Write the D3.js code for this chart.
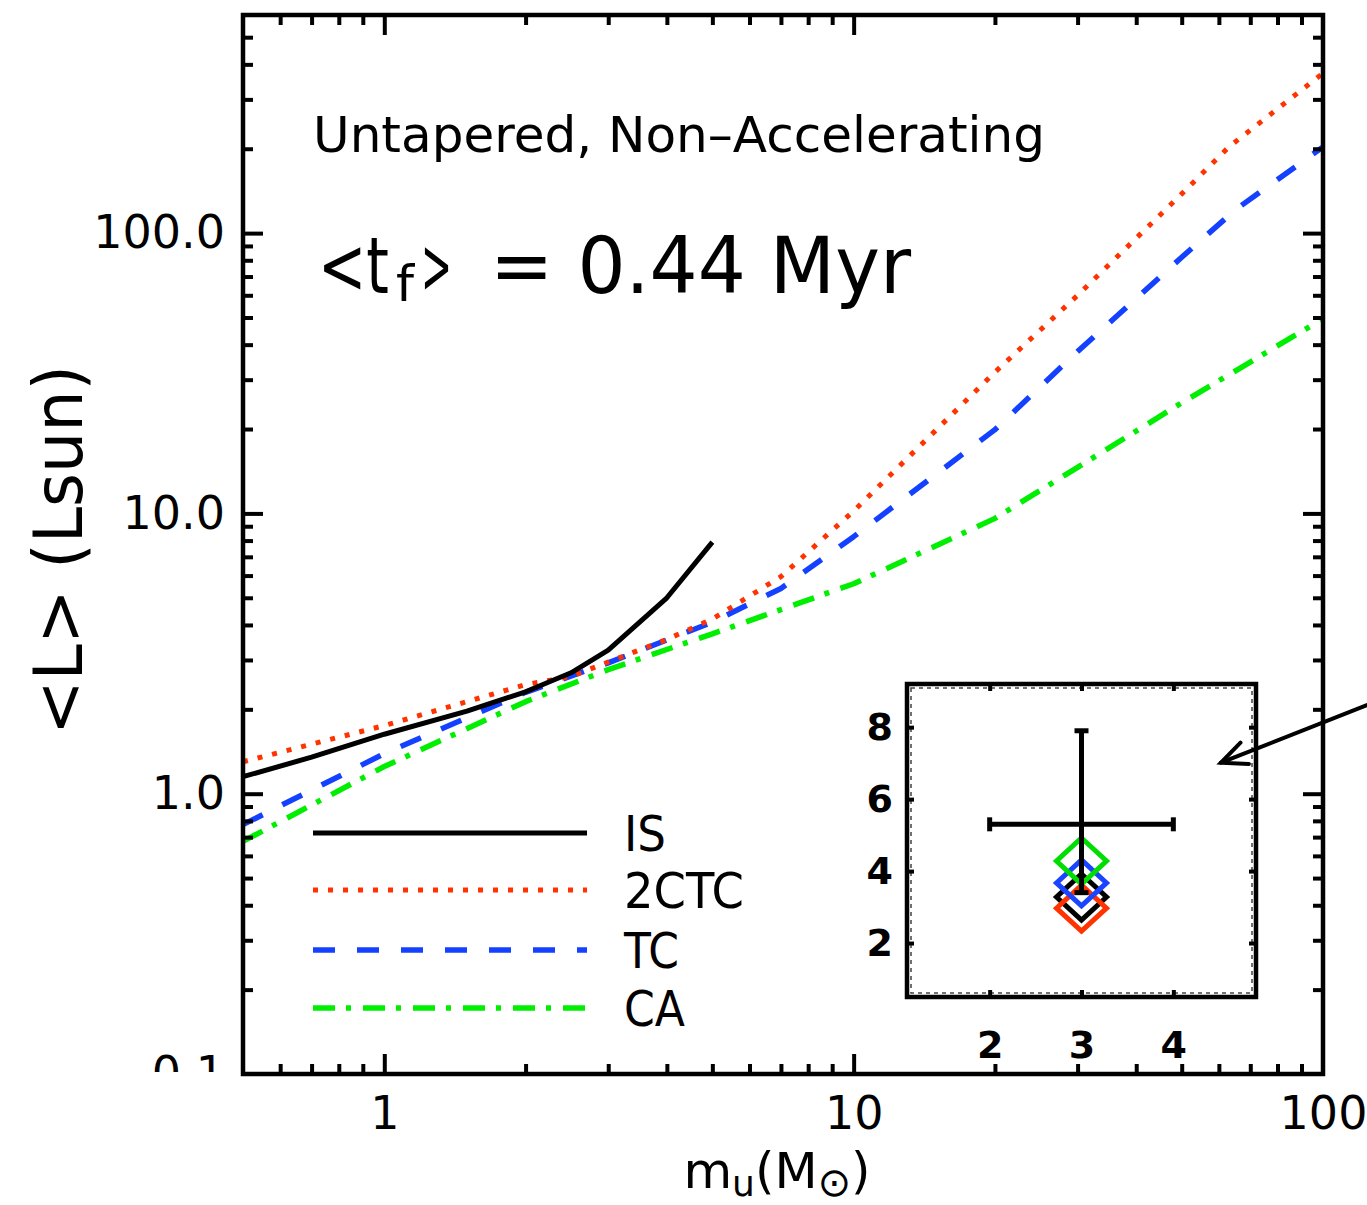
<!DOCTYPE html>
<html>
<head>
<meta charset="utf-8">
<script src="https://cdnjs.cloudflare.com/ajax/libs/d3/7.8.5/d3.min.js"></script>
<style>
  body { margin: 0; background: #fff; }
  svg { display: block; }
  text { font-family: "DejaVu Sans", sans-serif; fill: #000; }
</style>
</head>
<body>
<svg id="chart" width="1367" height="1205"></svg>
<script>
// Mean luminosity <L> (Lsun) versus upper mass m_u (Msun), untapered, non-accelerating case
const massIS   = [0.5, 0.7, 1, 1.5, 2, 2.5, 3, 4, 5];
const lumIS    = [1.15, 1.35, 1.63, 1.97, 2.31, 2.70, 3.25, 5.0, 7.9];

const mass2CTC = [0.5, 1, 2, 2.5, 3, 4, 5, 7, 10, 20, 30, 50, 63, 100];
const lum2CTC  = [1.30, 1.75, 2.45, 2.62, 2.95, 3.55, 4.2, 5.95, 10.2, 31.9, 60, 138, 203, 372];

const massTC   = [0.5, 1, 2, 3, 5, 7, 10, 20, 30, 50, 65, 100];
const lumTC    = [0.776, 1.39, 2.30, 2.93, 4.09, 5.4, 8.26, 19.9, 37.8, 82, 121, 203];

const massCA   = [0.5, 1, 2, 3, 5, 7, 10, 20, 30, 50, 100];
const lumCA    = [0.676, 1.25, 2.13, 2.77, 3.72, 4.54, 5.61, 9.6, 14.6, 24.8, 49.5];

const seriesNames = ["IS", "2CTC", "TC", "CA"];

// Axis ticks
const xMajorTicks = [1, 10, 100];
const xMinorTicks = [0.6, 0.7, 0.8, 0.9, 2, 3, 4, 5, 6, 7, 8, 9, 20, 30, 40, 50, 60, 70, 80, 90];
const yMajorTicks = [0.1, 1, 10, 100];
const yMinorTicks = [0.2, 0.3, 0.4, 0.5, 0.6, 0.7, 0.8, 0.9, 2, 3, 4, 5, 6, 7, 8, 9,
                     20, 30, 40, 50, 60, 70, 80, 90, 200, 300, 400, 500];

// Inset: model values at the peak vs. observed value with error bars
const insetModels   = ["IS", "2CTC", "TC", "CA"];
const insetX        = [3, 3, 3, 3];
const insetY        = [3.28, 2.97, 3.67, 4.28];
const observedX     = 3;
const observedY     = 5.3;
const observedXErr  = [2.0, 4.0];
const observedYErr  = [3.4, 7.9];
const insetXTicks   = [2, 3, 4];
const insetYTicks   = [2, 4, 6, 8];

const styles = {
  "IS":   { color: "#000000", width: 5,   dash: null },
  "2CTC": { color: "#ff3300", width: 5,   dash: "5 10" },
  "TC":   { color: "#1440ff", width: 5.5, dash: "22 22" },
  "CA":   { color: "#00ee00", width: 5.5, dash: "22 11 5 12" }
};
const insetColors = { "IS": "#000000", "2CTC": "#ff3300", "TC": "#1a44ff", "CA": "#00dd00" };

const plot = { left: 243, right: 1323, top: 15, bottom: 1074 };
const svg = d3.select("#chart");

const x = d3.scaleLog().domain([0.5, 100]).range([plot.left, plot.right]);
const y = d3.scaleLog().domain([0.1, 600]).range([plot.bottom, plot.top]);

svg.append("defs").append("clipPath").attr("id", "plotClip")
  .append("rect").attr("x", plot.left).attr("y", plot.top)
  .attr("width", plot.right - plot.left).attr("height", plot.bottom - plot.top);
svg.select("defs").append("clipPath").attr("id", "ylabClip")
  .append("rect").attr("x", 0).attr("y", 0).attr("width", plot.left).attr("height", plot.bottom - 2);

// Curves
const seriesData = {
  "IS":   d3.zip(massIS, lumIS),
  "2CTC": d3.zip(mass2CTC, lum2CTC),
  "TC":   d3.zip(massTC, lumTC),
  "CA":   d3.zip(massCA, lumCA)
};
const line = d3.line().x(d => x(d[0])).y(d => y(d[1]));
const curves = svg.append("g").attr("clip-path", "url(#plotClip)");
["CA", "TC", "2CTC", "IS"].forEach(name => {
  const s = styles[name];
  curves.append("path")
    .datum(seriesData[name])
    .attr("d", line)
    .attr("fill", "none")
    .attr("stroke", s.color)
    .attr("stroke-width", s.width)
    .attr("stroke-dasharray", s.dash)
    .attr("stroke-linejoin", "round");
});

// Inward ticks on all four sides
function tickGroup(axis, transform, len, values) {
  const g = svg.append("g").attr("transform", transform)
    .call(axis.tickValues(values).tickSize(-len).tickFormat(""));
  g.select(".domain").remove();
  g.selectAll(".tick line").attr("stroke", "#000").attr("stroke-width", 4);
  return g;
}
tickGroup(d3.axisBottom(x), `translate(0,${plot.bottom})`, 20, xMajorTicks.filter(v => v < 100));
tickGroup(d3.axisBottom(x), `translate(0,${plot.bottom})`, 10, xMinorTicks);
tickGroup(d3.axisTop(x), `translate(0,${plot.top})`, 20, xMajorTicks.filter(v => v < 100));
tickGroup(d3.axisTop(x), `translate(0,${plot.top})`, 10, xMinorTicks);
tickGroup(d3.axisLeft(y), `translate(${plot.left},0)`, 20, yMajorTicks.filter(v => v > 0.1));
tickGroup(d3.axisLeft(y), `translate(${plot.left},0)`, 10, yMinorTicks);
tickGroup(d3.axisRight(y), `translate(${plot.right},0)`, 20, yMajorTicks.filter(v => v > 0.1));
tickGroup(d3.axisRight(y), `translate(${plot.right},0)`, 10, yMinorTicks);

// Frame
svg.append("rect")
  .attr("x", plot.left).attr("y", plot.top)
  .attr("width", plot.right - plot.left).attr("height", plot.bottom - plot.top)
  .attr("fill", "none").attr("stroke", "#000").attr("stroke-width", 4.5);

// Tick labels
const xLab = svg.append("g").attr("transform", `translate(0,${plot.bottom})`)
  .call(d3.axisBottom(x).tickValues(xMajorTicks).tickSize(0).tickPadding(22).tickFormat(d3.format("d")));
xLab.select(".domain").remove();
xLab.attr("font-family", null).attr("font-size", null);
xLab.selectAll("text").attr("font-size", 46);

const yLab = svg.append("g").attr("transform", `translate(${plot.left},0)`)
  .call(d3.axisLeft(y).tickValues(yMajorTicks).tickSize(0).tickPadding(18).tickFormat(d3.format(".1f")));
yLab.select(".domain").remove();
yLab.attr("font-family", null).attr("font-size", null);
yLab.selectAll("text").attr("font-size", 46);
// the lowest label is cut at the bottom axis line
const yLabWrap = svg.append("g").attr("clip-path", "url(#ylabClip)");
yLabWrap.node().appendChild(yLab.node());

// Axis titles
const xTitle = svg.append("text").attr("x", 777).attr("y", 1188)
  .attr("text-anchor", "middle").attr("font-size", 50);
xTitle.append("tspan").text("m");
xTitle.append("tspan").attr("font-size", 36).attr("dy", 8).text("u");
xTitle.append("tspan").attr("dy", -8).text("(M");
xTitle.append("tspan").attr("font-size", 40).attr("dy", 8).text("\u2299");
xTitle.append("tspan").attr("dy", -8).text(")");

svg.append("text")
  .attr("transform", "translate(82,550) rotate(-90)")
  .attr("text-anchor", "middle").attr("font-size", 68)
  .attr("textLength", 370).attr("lengthAdjust", "spacingAndGlyphs")
  .text("<L> (Lsun)");

// Annotations
svg.append("text").attr("x", 313).attr("y", 152).attr("font-size", 50)
  .attr("textLength", 732).attr("lengthAdjust", "spacingAndGlyphs")
  .text("Untapered, Non\u2013Accelerating");

// <t_f> = 0.44 Myr as one text with placed pieces
const tf = svg.append("text").attr("font-size", 78);
tf.append("tspan").attr("x", 318).attr("y", 293)
  .attr("textLength", 71).attr("lengthAdjust", "spacingAndGlyphs").text("<t");
tf.append("tspan").attr("x", 396).attr("y", 301).attr("font-size", 50)
  .attr("textLength", 18).attr("lengthAdjust", "spacingAndGlyphs").text("f");
tf.append("tspan").attr("x", 421).attr("y", 293)
  .attr("textLength", 31).attr("lengthAdjust", "spacingAndGlyphs").text(">");
tf.append("tspan").attr("x", 490).attr("y", 293)
  .attr("textLength", 421).attr("lengthAdjust", "spacingAndGlyphs").text("= 0.44 Myr");

// Legend
const legend = svg.append("g");
const legendY = [833, 890, 950, 1008];
const legendW = [42, 120, 55, 61];
seriesNames.forEach((name, i) => {
  const s = styles[name];
  legend.append("line")
    .attr("x1", 313).attr("x2", 587).attr("y1", legendY[i]).attr("y2", legendY[i])
    .attr("stroke", s.color).attr("stroke-width", s.width)
    .attr("stroke-dasharray", s.dash);
  legend.append("text").attr("x", 624).attr("y", legendY[i] + 18)
    .attr("font-size", 50)
    .attr("textLength", legendW[i]).attr("lengthAdjust", "spacingAndGlyphs")
    .text(name);
});

// Inset panel
const inset = { left: 907, right: 1256, top: 684, bottom: 997 };
const ix = d3.scaleLinear().domain([1.1, 4.9]).range([inset.left, inset.right]);
const iy = d3.scaleLinear().domain([0.5, 9.2]).range([inset.bottom, inset.top]);
const ig = svg.append("g");

ig.append("rect")
  .attr("x", inset.left).attr("y", inset.top)
  .attr("width", inset.right - inset.left).attr("height", inset.bottom - inset.top)
  .attr("fill", "#fff").attr("stroke", "#000").attr("stroke-width", 4.5);
ig.append("rect")
  .attr("x", inset.left + 4).attr("y", inset.top + 4)
  .attr("width", inset.right - inset.left - 8).attr("height", inset.bottom - inset.top - 8)
  .attr("fill", "none").attr("stroke", "#444").attr("stroke-width", 1.5)
  .attr("stroke-dasharray", "4 4");

function insetTicks(axis, transform, values) {
  const g = ig.append("g").attr("transform", transform)
    .call(axis.tickValues(values).tickSize(-7).tickFormat(""));
  g.select(".domain").remove();
  g.selectAll(".tick line").attr("stroke", "#000").attr("stroke-width", 4);
}
insetTicks(d3.axisBottom(ix), `translate(0,${inset.bottom})`, insetXTicks);
insetTicks(d3.axisTop(ix), `translate(0,${inset.top})`, insetXTicks);
insetTicks(d3.axisLeft(iy), `translate(${inset.left},0)`, insetYTicks);
insetTicks(d3.axisRight(iy), `translate(${inset.right},0)`, insetYTicks);

const ixLab = ig.append("g").attr("transform", `translate(0,${inset.bottom})`)
  .call(d3.axisBottom(ix).tickValues(insetXTicks).tickSize(0).tickPadding(34).tickFormat(d3.format("d")));
ixLab.select(".domain").remove();
ixLab.attr("font-family", null).attr("font-size", null);
ixLab.selectAll("text").attr("font-size", 38).attr("font-weight", "bold");

const iyLab = ig.append("g").attr("transform", `translate(${inset.left},0)`)
  .call(d3.axisLeft(iy).tickValues(insetYTicks).tickSize(0).tickPadding(14).tickFormat(d3.format("d")));
iyLab.select(".domain").remove();
iyLab.attr("font-family", null).attr("font-size", null);
iyLab.selectAll("text").attr("font-size", 38).attr("font-weight", "bold");

// Model diamonds
const dHalfX = 25, dHalfY = 23;
const diamondOrder = ["IS", "2CTC", "TC", "CA"];
diamondOrder.forEach(name => {
  const i = insetModels.indexOf(name);
  const cx = ix(insetX[i]), cy = iy(insetY[i]);
  ig.append("path")
    .attr("d", `M${cx},${cy - dHalfY}L${cx + dHalfX},${cy}L${cx},${cy + dHalfY}L${cx - dHalfX},${cy}Z`)
    .attr("fill", "none").attr("stroke", insetColors[name]).attr("stroke-width", 5);
});

// Observed value with error bars
const eb = ig.append("g").attr("stroke", "#000").attr("stroke-width", 5);
eb.append("line").attr("x1", ix(observedXErr[0])).attr("x2", ix(observedXErr[1]))
  .attr("y1", iy(observedY)).attr("y2", iy(observedY));
eb.append("line").attr("x1", ix(observedX)).attr("x2", ix(observedX))
  .attr("y1", iy(observedYErr[0])).attr("y2", iy(observedYErr[1]));
observedXErr.forEach(v => eb.append("line")
  .attr("x1", ix(v)).attr("x2", ix(v))
  .attr("y1", iy(observedY) - 7).attr("y2", iy(observedY) + 7));
observedYErr.forEach(v => eb.append("line")
  .attr("x1", ix(observedX) - 7).attr("x2", ix(observedX) + 7)
  .attr("y1", iy(v)).attr("y2", iy(v)));

// Arrow pointing into the inset
const arrowFrom = [124, 2.07], arrowTo = [60.6, 1.29];
const ax0 = x(arrowFrom[0]), ay0 = y(arrowFrom[1]);
const ax1 = x(arrowTo[0]),   ay1 = y(arrowTo[1]);
const ang = Math.atan2(ay1 - ay0, ax1 - ax0);
const headLen = 28, headAng = 0.42;
const arrow = svg.append("g").attr("stroke", "#000").attr("stroke-width", 4)
  .attr("stroke-linecap", "round").attr("fill", "none");
arrow.append("line").attr("x1", ax0).attr("y1", ay0).attr("x2", ax1).attr("y2", ay1);
arrow.append("path").attr("d",
  `M${ax1 - headLen * Math.cos(ang - headAng)},${ay1 - headLen * Math.sin(ang - headAng)}` +
  `L${ax1},${ay1}` +
  `L${ax1 - headLen * Math.cos(ang + headAng)},${ay1 - headLen * Math.sin(ang + headAng)}`);
</script>
</body>
</html>
